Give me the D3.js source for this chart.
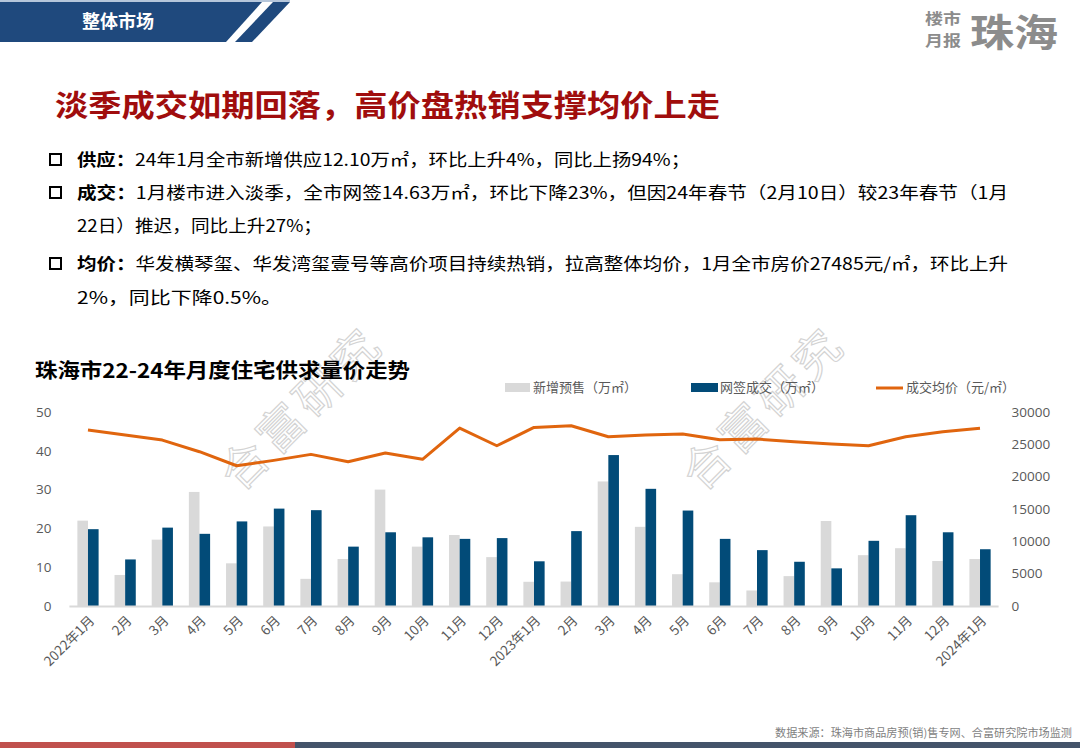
<!DOCTYPE html>
<html>
<head>
<meta charset="utf-8">
<script src="https://cdn.jsdelivr.net/npm/d3@7/dist/d3.min.js"></script>
<style>
  html, body { margin: 0; padding: 0; background: #fff; }
  svg { display: block; font-family: "Noto Sans CJK SC", "Noto Sans", sans-serif; }
</style>
</head>
<body>
<svg id="chart" width="1080" height="748"></svg>
<script>
// ---------------- data ----------------
const monthLabels = ["2022年1月","2月","3月","4月","5月","6月","7月","8月","9月","10月","11月","12月",
                     "2023年1月","2月","3月","4月","5月","6月","7月","8月","9月","10月","11月","12月",
                     "2024年1月"];
// 新增预售（万㎡）
const supply = [22.0, 8.0, 17.1, 29.4, 11.0, 20.5, 7.0, 12.1, 30.0, 15.3, 18.3, 12.6,
                6.24, 6.3, 32.1, 20.4, 8.2, 6.1, 4.0, 7.7, 21.9, 13.1, 14.9, 11.6,
                12.10];
// 网签成交（万㎡）
const deals = [19.8, 12.0, 20.2, 18.6, 21.8, 25.1, 24.7, 15.3, 19.0, 17.7, 17.3, 17.5,
               11.52, 19.3, 38.9, 30.2, 24.6, 17.3, 14.4, 11.4, 9.7, 16.8, 23.4, 19.0,
               14.63];
// 成交均价（元/㎡）
const price = [27210, 26440, 25660, 23860, 21690, 22520, 23450, 22310, 23650, 22680, 27520, 24780,
               27620, 27880, 26180, 26440, 26590, 25710, 25820, 25400, 25050, 24780, 26180, 26950,
               27485];
const leftTicks = [0, 10, 20, 30, 40, 50];
const rightTicks = [0, 5000, 10000, 15000, 20000, 25000, 30000];
const seriesNames = ["新增预售（万㎡）", "网签成交（万㎡）", "成交均价（元/㎡）"];

const headerLabel = "整体市场";
const pageTitle = "淡季成交如期回落，高价盘热销支撑均价上走";
const chartTitle = "珠海市22-24年月度住宅供求量价走势";
const bullets = [
  {label: "供应：", lines: ["24年1月全市新增供应12.10万㎡，环比上升4%，同比上扬94%；"]},
  {label: "成交：", lines: ["1月楼市进入淡季，全市网签14.63万㎡，环比下降23%，但因24年春节（2月10日）较23年春节（1月",
                           "22日）推迟，同比上升27%；"]},
  {label: "均价：", lines: ["华发横琴玺、华发湾玺壹号等高价项目持续热销，拉高整体均价，1月全市房价27485元/㎡，环比上升",
                           "2%，同比下降0.5%。"]}
];
const sourceText = "数据来源：珠海市商品房预(销)售专网、合富研究院市场监测";

// ---------------- drawing ----------------
const svg = d3.select("#chart");
const C = {gray: "#D9D9D9", blue: "#024B78", orange: "#E0650E", text: "#595959"};

// header banner
svg.append("polygon").attr("points", "0,2 262,2 226,42 0,42").attr("fill", "#1F497D");
svg.append("polygon").attr("points", "273,2 290,2 252,42 235,42").attr("fill", "#1F497D");
svg.append("line").attr("x1", 0).attr("x2", 290).attr("y1", 1).attr("y2", 1)
  .attr("stroke", "#9DB3CF").attr("stroke-width", 1.5);
svg.append("text").attr("x", 118).attr("y", 28).attr("text-anchor", "middle")
  .attr("fill", "#fff").attr("font-size", 18).attr("font-weight", "bold").text(headerLabel);

// logo
const logo = svg.append("g").attr("fill", "#8C8C8C").attr("font-weight", "bold");
logo.append("text").attr("x", 943).attr("y", 24).attr("text-anchor", "middle").attr("font-size", 15)
  .attr("textLength", 36).attr("lengthAdjust", "spacingAndGlyphs").text("楼市");
logo.append("text").attr("x", 943).attr("y", 46).attr("text-anchor", "middle").attr("font-size", 15)
  .attr("textLength", 36).attr("lengthAdjust", "spacingAndGlyphs").text("月报");
logo.append("text").attr("x", 970).attr("y", 46).attr("font-size", 38).attr("textLength", 88)
  .attr("lengthAdjust", "spacingAndGlyphs").text("珠海");

// page title
svg.append("text").attr("x", 55).attr("y", 116).attr("font-size", 30).attr("font-weight", "bold")
  .attr("fill", "#A00D0D").attr("textLength", 665).attr("lengthAdjust", "spacingAndGlyphs").text(pageTitle);

// bullet paragraphs
const lineY = [[166], [199, 232], [270, 304]];
const lineW = [[613], [931, 245], [931, 205]];
bullets.forEach((b, i) => {
  const y0 = lineY[i][0];
  svg.append("rect").attr("x", 50).attr("y", y0 - 12).attr("width", 11).attr("height", 11)
    .attr("fill", "none").attr("stroke", "#000").attr("stroke-width", 2);
  b.lines.forEach((ln, j) => {
    const t = svg.append("text").attr("x", 77).attr("y", lineY[i][j]).attr("font-size", 17)
      .attr("fill", "#000").attr("textLength", lineW[i][j]).attr("lengthAdjust", "spacingAndGlyphs");
    if (j === 0) t.append("tspan").attr("font-weight", "bold").text(b.label);
    t.append("tspan").text(ln);
  });
});

// watermarks
[[302, 408], [764, 408]].forEach(([cx, cy]) => {
  svg.append("text").attr("transform", `translate(${cx},${cy}) rotate(-45)`)
    .attr("text-anchor", "middle").attr("dy", "0.35em").attr("font-size", 46)
    .attr("letter-spacing", 6).attr("fill", "none").attr("stroke", "#D3D3D3").attr("stroke-width", 1.2)
    .text("合富研究");
});

// chart title
svg.append("text").attr("x", 35).attr("y", 378).attr("font-size", 20).attr("font-weight", "bold")
  .attr("fill", "#000").attr("textLength", 375).attr("lengthAdjust", "spacingAndGlyphs").text(chartTitle);

// legend
const lg = svg.append("g").attr("font-size", 13).attr("fill", C.text);
lg.append("rect").attr("x", 505).attr("y", 383).attr("width", 25).attr("height", 9).attr("fill", C.gray);
lg.append("text").attr("x", 533).attr("y", 392).text(seriesNames[0]);
lg.append("rect").attr("x", 691).attr("y", 383).attr("width", 27).attr("height", 9).attr("fill", C.blue);
lg.append("text").attr("x", 720).attr("y", 392).text(seriesNames[1]);
lg.append("line").attr("x1", 876).attr("x2", 903).attr("y1", 388).attr("y2", 388)
  .attr("stroke", C.orange).attr("stroke-width", 3);
lg.append("text").attr("x", 906).attr("y", 392).text(seriesNames[2]);

// scales
const plotL = 69.4, plotR = 998.6, plotTop = 412, plotBot = 606;
const x = d3.scaleBand().domain(d3.range(monthLabels.length)).range([plotL, plotR]).padding(0);
const xs = d3.scaleBand().domain(["supply", "deals"]).range([0, x.bandwidth()])
  .paddingInner(0).paddingOuter(0.75);
const yL = d3.scaleLinear().domain([0, 50]).range([plotBot, plotTop]);
const yR = d3.scaleLinear().domain([0, 30000]).range([plotBot, plotTop]);

// axes
const axL = svg.append("g").attr("transform", `translate(${plotL - 10},0)`)
  .call(d3.axisLeft(yL).tickValues(leftTicks).tickSize(0).tickPadding(8));
const axR = svg.append("g").attr("transform", `translate(${plotR + 5},0)`)
  .call(d3.axisRight(yR).tickValues(rightTicks).tickSize(0).tickPadding(8).tickFormat(d3.format("d")));
[axL, axR].forEach(a => {
  a.select(".domain").remove();
  a.selectAll("text").attr("fill", C.text).attr("font-size", 13.5)
    .attr("font-family", "'Open Sans', 'Noto Sans', sans-serif");
});

// bars
const gBars = svg.append("g");
gBars.selectAll("rect.s").data(supply).join("rect").attr("class", "s")
  .attr("x", (d, i) => x(i) + xs("supply")).attr("width", xs.bandwidth())
  .attr("y", d => yL(d)).attr("height", d => yL(0) - yL(d)).attr("fill", C.gray);
gBars.selectAll("rect.d").data(deals).join("rect").attr("class", "d")
  .attr("x", (d, i) => x(i) + xs("deals")).attr("width", xs.bandwidth())
  .attr("y", d => yL(d)).attr("height", d => yL(0) - yL(d)).attr("fill", C.blue);

// baseline
svg.append("line").attr("x1", plotL).attr("x2", plotR).attr("y1", plotBot + 0.5).attr("y2", plotBot + 0.5)
  .attr("stroke", "#D9D9D9").attr("stroke-width", 2);

// price line
const line = d3.line().x((d, i) => x(i) + x.bandwidth() / 2).y(d => yR(d));
svg.append("path").datum(price).attr("d", line).attr("fill", "none")
  .attr("stroke", C.orange).attr("stroke-width", 3).attr("stroke-linejoin", "round");

// x labels
const gx = svg.append("g").attr("font-size", 13.5).attr("fill", C.text);
monthLabels.forEach((lab, i) => {
  const cx = x(i) + x.bandwidth() / 2;
  gx.append("text").attr("transform", `translate(${cx + 4},${plotBot + 12}) rotate(-45)`)
    .attr("text-anchor", "end").attr("dy", "0.35em").text(lab);
});

// source
svg.append("text").attr("x", 1072).attr("y", 737).attr("text-anchor", "end").attr("font-size", 11)
  .attr("fill", "#7F7F7F").attr("textLength", 297).attr("lengthAdjust", "spacingAndGlyphs").text(sourceText);

// bottom bars
svg.append("rect").attr("x", 0).attr("y", 742).attr("width", 295).attr("height", 6).attr("fill", "#C0504D");
svg.append("rect").attr("x", 295).attr("y", 742).attr("width", 785).attr("height", 6).attr("fill", "#44546A");
</script>
</body>
</html>
